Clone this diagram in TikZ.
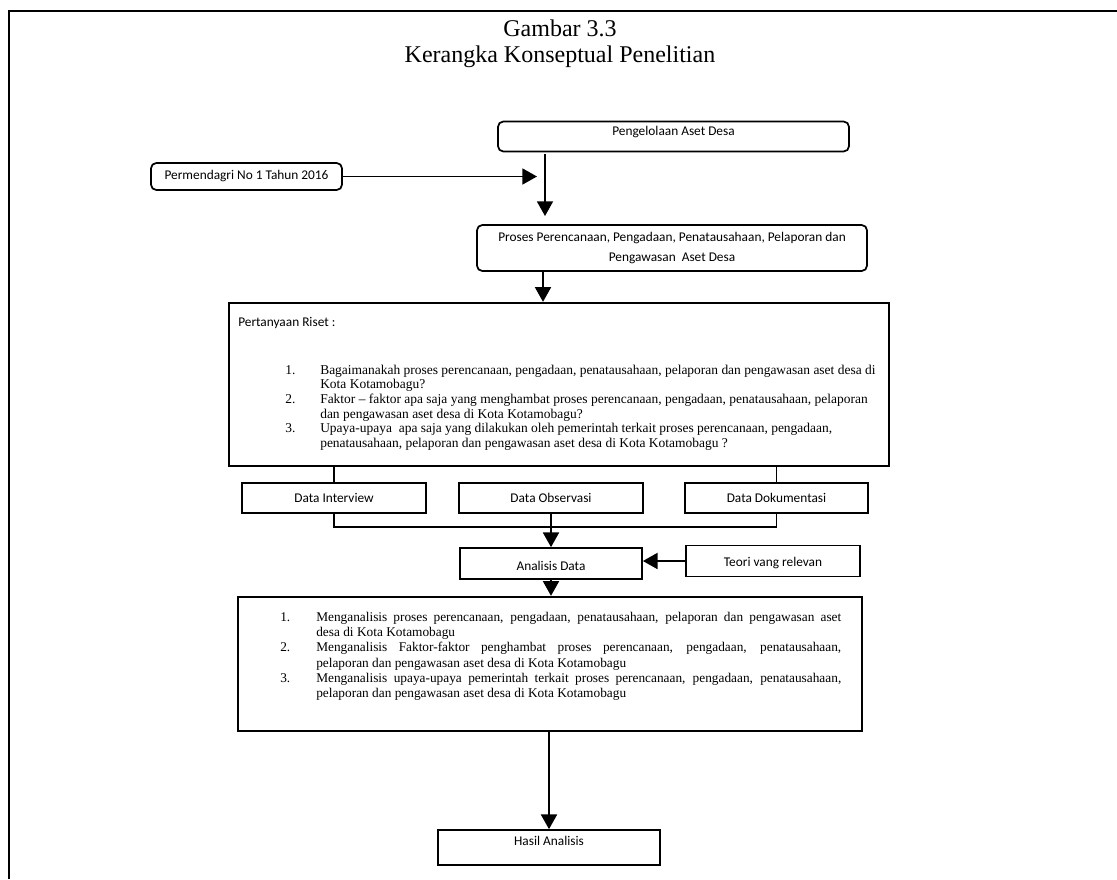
\documentclass[tikz,border=0pt]{standalone}
\usepackage{fontspec}
\setmainfont{Liberation Serif}
\newfontfamily\calfont{Carlito}
\usetikzlibrary{arrows.meta}
\newcommand\qitem[2]{\hangindent=26.25pt\hangafter=1\noindent\makebox[26.25pt][l]{#1}#2\par}
\newcommand\bitem[2]{\hangindent=27pt\hangafter=1\noindent\makebox[27pt][l]{#1}#2\par}
\begin{document}
\begin{tikzpicture}[x=0.75pt,y=-0.75pt,
  box/.style={draw, line width=1.3pt, inner sep=0pt, font=\calfont\fontsize{10}{12}\selectfont},
  rbox/.style={box, rounded corners=4pt},
  bigbox/.style={draw, line width=1.8pt, inner sep=0pt},
  arr/.style={line width=1.3pt, -{Triangle[width=12pt,length=11pt]}},
  con/.style={line width=1.3pt},
  frameline/.style={line width=2pt},
  txt/.style={inner sep=0pt}
]
\useasboundingbox (0,0) rectangle (1117,879);
% frame
\coordinate (fb) at (9,879);
\coordinate (fr) at (1117,11);
\draw[frameline] (fb) |- (fr);
% title
\node[txt, align=center, font=\fontsize{18}{19.5}\selectfont] (title) at (560,43.5) {Gambar 3.3\\Kerangka Konseptual Penelitian};
% top boxes
\node[rbox, minimum width=263.25pt, minimum height=22.5pt] (peng) at (673.5,136.5) {\raisebox{3.4pt}[\height][\depth]{Pengelolaan Aset Desa}};
\node[rbox, minimum width=143.25pt, minimum height=20.25pt] (perm) at (246.5,176.5) {Permendagri No 1 Tahun 2016};
\node[rbox, minimum width=292.5pt, minimum height=34.5pt, align=center, font=\calfont\fontsize{10}{15}\selectfont] (proses) at (672,248) {Proses Perencanaan, Pengadaan, Penatausahaan, Pelaporan dan\\Pengawasan\ \ Aset Desa};
\coordinate (pj) at (537,176.5);
\draw[arr] (perm.east) -- (pj);
\coordinate (vs) at (545,154);
\coordinate (ve) at (545,216);
\draw[arr] (vs) -- (ve);
% research questions box
\node[bigbox, minimum width=495pt, minimum height=122.25pt] (pr) at (559,384.5) {};
\coordinate (x2) at (543,0);
\draw[arr] (proses.south -| x2) -- (pr.north -| x2);
\node[txt, anchor=west, font=\calfont\fontsize{10}{12}\selectfont] (prt) at (238,323) {Pertanyaan Riset :};
\node[txt, anchor=base west] (prq) at (285,374) {\begin{minipage}[t]{450pt}\fontsize{10.1}{11}\selectfont\raggedright
\qitem{1.}{Bagaimanakah proses perencanaan, pengadaan, penatausahaan, pelaporan dan pengawasan aset desa di\newline Kota Kotamobagu?}
\qitem{2.}{Faktor -- faktor apa saja yang menghambat proses perencanaan, pengadaan, penatausahaan, pelaporan\newline dan pengawasan aset desa di Kota Kotamobagu?}
\qitem{3.}{Upaya-upaya\ \ apa saja yang dilakukan oleh pemerintah terkait proses perencanaan, pengadaan,\newline penatausahaan, pelaporan dan pengawasan aset desa di Kota Kotamobagu ?}
\end{minipage}};
% data boxes
\node[box, minimum width=138pt, minimum height=22.5pt] (DI) at (334,498) {Data Interview};
\node[box, minimum width=138pt, minimum height=22.5pt] (DO) at (551,498) {Data Observasi};
\node[box, minimum width=137.25pt, minimum height=22.5pt] (DD) at (776.5,498) {Data Dokumentasi};
\draw[con] (DI.north) -- (DI.north |- pr.south);
\draw[con] (DD.north) -- (DD.north |- pr.south);
\coordinate (jn) at (551,527);
\draw[con] (DI.south) |- (jn) -| (DD.south);
% analysis
\node[box, minimum width=136.5pt, minimum height=23.25pt] (AD) at (551,563.5) {\raisebox{-1.8pt}[\height][\depth]{Analisis Data}};
\node[box, minimum width=130.5pt, minimum height=23.25pt] (TR) at (773,561) {\raisebox{-1.5pt}[\height][\depth]{Teori vang relevan}};
\draw[arr] (DO.south) -- (AD.north);
\draw[arr] (TR.west) -- (TR.west -| AD.east);
% bottom box
\node[bigbox, minimum width=468pt, minimum height=100.5pt] (BB) at (550,664) {};
\draw[arr] (AD.south) -- (AD.south |- BB.north);
\node[txt, anchor=base west] (bbt) at (280,621) {\begin{minipage}[t]{420.75pt}\fontsize{10}{11.5}\selectfont\tolerance=9999\hbadness=10000
\bitem{1.}{Menganalisis proses perencanaan, pengadaan, penatausahaan, pelaporan dan pengawasan aset\linebreak desa di Kota Kotamobagu}
\bitem{2.}{Menganalisis Faktor-faktor penghambat proses perencanaan, pengadaan, penatausahaan,\linebreak pelaporan dan pengawasan aset desa di Kota Kotamobagu}
\bitem{3.}{Menganalisis upaya-upaya pemerintah terkait proses perencanaan, pengadaan, penatausahaan,\linebreak pelaporan dan pengawasan aset desa di Kota Kotamobagu}
\end{minipage}};
% result
\node[box, minimum width=166.5pt, minimum height=26.25pt] (HA) at (549,847.5) {\raisebox{4.9pt}[\height][\depth]{Hasil Analisis}};
\draw[arr] (BB.south -| HA.north) -- (HA.north);
\end{tikzpicture}
\end{document}
